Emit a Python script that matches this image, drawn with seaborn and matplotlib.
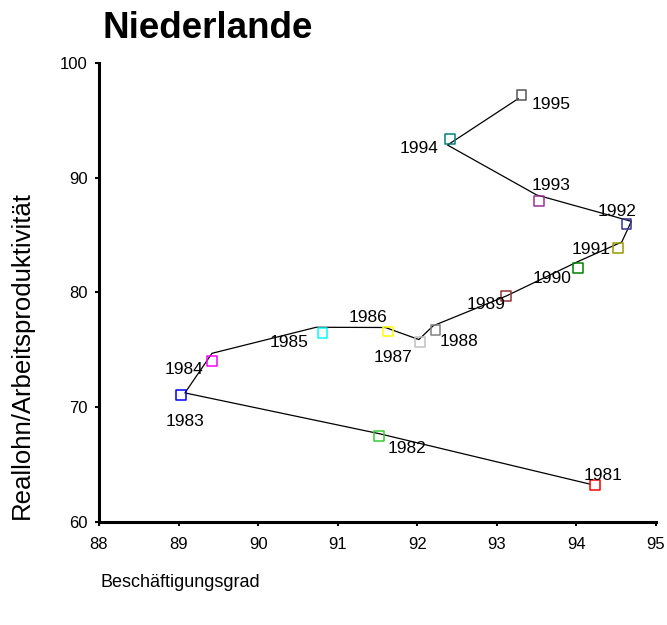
import pandas as pd
import matplotlib
matplotlib.use("Agg")
import matplotlib.pyplot as plt
import seaborn as sns

# ── Data ──────────────────────────────────────────────────────────────────────
years = ["1981", "1982", "1983", "1984", "1985", "1986", "1987", "1988",
         "1989", "1990", "1991", "1992", "1993", "1994", "1995"]

# marker positions (Beschäftigungsgrad, Reallohn/Arbeitsproduktivität)
emp = [94.23, 91.52, 89.03, 89.42, 90.81, 91.63, 92.03, 92.23,
       93.12, 94.02, 94.52, 94.63, 93.53, 92.41, 93.31]
wage = [63.2, 67.5, 71.1, 74.05, 76.5, 76.6, 75.7, 76.7,
        79.7, 82.15, 83.9, 86.0, 88.0, 93.4, 97.2]

# connecting path as drawn (slightly off the markers)
path_emp = [94.17, 91.52, 89.08, 89.42, 90.73, 91.6, 92.02, 92.2,
            93.12, 94.02, 94.57, 94.69, 93.5, 92.38, 93.27]
path_wage = [63.3, 67.7, 71.25, 74.7, 76.97, 76.95, 75.9, 77.1,
             79.7, 82.7, 84.4, 86.2, 88.5, 92.85, 96.9]

marker_colors = ["#ff0000", "#33cc33", "#0000ff", "#ff00ff", "#00ffff",
                 "#ffff00", "#c0c0c0", "#808080", "#993333", "#008000",
                 "#999900", "#333399", "#993399", "#008080", "#555555"]

# label offsets in points relative to the marker
label_dx = [6, 20, 3, -20, -24, -14, -19, 17, -15, -19, -19, -7, 9, -22, 21]
label_dy = [7, -9, -19, -6, -7, 10, -11, -8, -6, -8, -1, 9, 11, -7, -7]

x_ticks = [88, 89, 90, 91, 92, 93, 94, 95]
y_ticks = [60, 70, 80, 90, 100]

df = pd.DataFrame({"year": years, "emp": emp, "wage": wage})
path = pd.DataFrame({"emp": path_emp, "wage": path_wage})

# ── Style ─────────────────────────────────────────────────────────────────────
sns.set_theme(style="white")
plt.rcParams["font.family"] = ["Liberation Sans", "DejaVu Sans"]
plt.rcParams["text.color"] = "black"
plt.rcParams["axes.labelcolor"] = "black"
plt.rcParams["xtick.color"] = "black"
plt.rcParams["ytick.color"] = "black"

fig = plt.figure(figsize=(6.67, 6.25), dpi=100)
ax = fig.add_axes([0.1484, 0.1648, 0.8351, 0.7344])

sns.lineplot(data=path, x="emp", y="wage", sort=False, estimator=None,
             color="black", linewidth=0.9, ax=ax)
sns.scatterplot(data=df, x="emp", y="wage", marker="s", s=50, ax=ax,
                linewidth=1.1, zorder=3)
pts = ax.collections[-1]
pts.set_facecolor("none")
pts.set_edgecolor(marker_colors)

for yr, x, y, dx, dy in zip(years, emp, wage, label_dx, label_dy):
    ax.annotate(yr, (x, y), xytext=(dx, dy), textcoords="offset points",
                ha="center", va="center", fontsize=12.5, color="black")

ax.set_xlim(88, 95)
ax.set_ylim(60, 100)
ax.set_xticks(x_ticks)
ax.set_yticks(y_ticks)
ax.tick_params(axis="both", labelsize=12, length=3, width=1.5,
               direction="out", bottom=True, left=True, color="black",
               labelcolor="black")
ax.tick_params(axis="x", pad=8)
ax.tick_params(axis="y", pad=5)
for side in ["top", "right"]:
    ax.spines[side].set_visible(False)
for side in ["left", "bottom"]:
    ax.spines[side].set_color("black")
    ax.spines[side].set_linewidth(2.2)
ax.set_xlabel("")
ax.set_ylabel("")

fig.text(0.154, 0.955, "Niederlande", fontsize=26.5, fontweight="bold",
         ha="left", va="center", color="black")
fig.text(0.15, 0.068, "Beschäftigungsgrad", fontsize=13,
         ha="left", va="center", color="black")
fig.text(0.033, 0.432, "Reallohn/Arbeitsproduktivität", fontsize=18.5,
         rotation=90, ha="center", va="center", color="black")

fig.savefig("out.png", dpi=100)
